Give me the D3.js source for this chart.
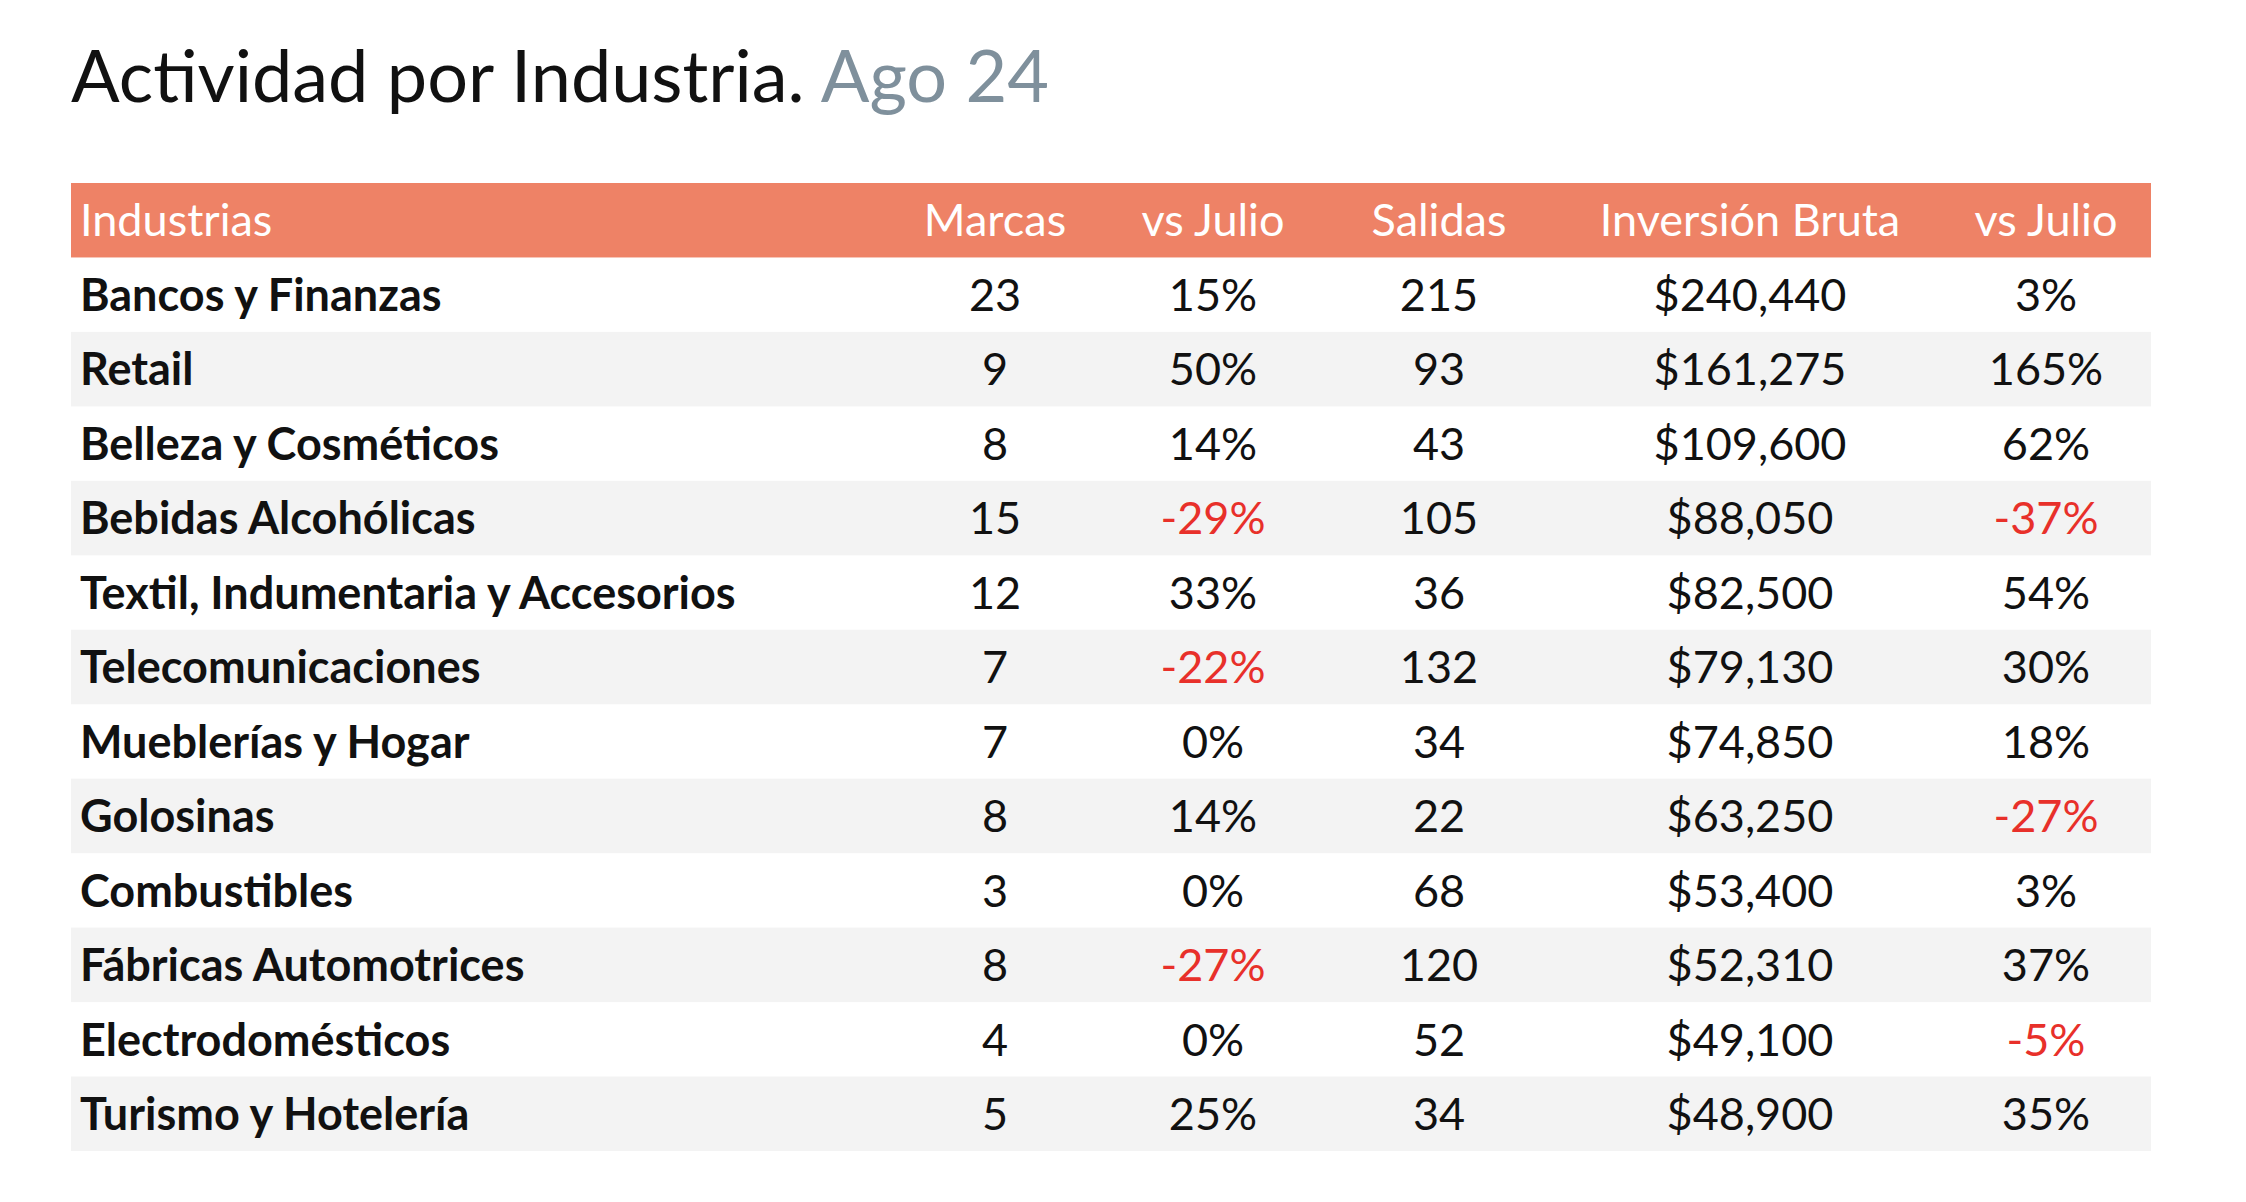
<!DOCTYPE html><html><head><meta charset="utf-8"><script src="https://cdn.jsdelivr.net/npm/d3@7"></script>
<style>body{margin:0;background:#fff}svg{font-family:Lato,sans-serif}</style></head><body>
<svg id="c" width="2246" height="1202"></svg>
<script>
const industrias=["Bancos y Finanzas","Retail","Belleza y Cosméticos","Bebidas Alcohólicas","Textil, Indumentaria y Accesorios","Telecomunicaciones","Mueblerías y Hogar","Golosinas","Combustibles","Fábricas Automotrices","Electrodomésticos","Turismo y Hotelería"];
const marcas=[23,9,8,15,12,7,7,8,3,8,4,5];
const vsJulioMarcas=[15,50,14,-29,33,-22,0,14,0,-27,0,25];
const salidas=[215,93,43,105,36,132,34,22,68,120,52,34];
const inversion=[240440,161275,109600,88050,82500,79130,74850,63250,53400,52310,49100,48900];
const vsJulioInv=[3,165,62,-37,54,30,18,-27,3,37,-5,35];
const headers=["Industrias","Marcas","vs Julio","Salidas","Inversión Bruta","vs Julio"];
const svg=d3.select("#c");
const x0=71,x1=2151;
const y=d3.scaleBand().domain(d3.range(13)).range([183,1151]);
const colX=[80,995,1213,1439,1750,2046];
const red="#e8302a";
svg.append("text").attr("x",71).attr("y",102).attr("font-size",72).attr("fill","#111")
 .text("Actividad por Industria. ").append("tspan").attr("fill","#7f909c").text("Ago 24");
svg.append("rect").attr("x",x0).attr("width",x1-x0).attr("y",y(0)).attr("height",y.bandwidth()).attr("fill","#ee8266");
headers.forEach((h,i)=>svg.append("text").attr("x",colX[i]).attr("y",y(0)+y.bandwidth()/2).attr("dy","0.36em")
 .attr("text-anchor",i?"middle":"start").attr("fill","#fff").attr("font-size",45).text(h));
const fmt=d3.format(",");
industrias.forEach((ind,r)=>{
 const yy=y(r+1);
 if(r%2==1) svg.append("rect").attr("x",x0).attr("width",x1-x0).attr("y",yy).attr("height",y.bandwidth()).attr("fill","#f3f3f3");
 const cells=[ind,marcas[r],vsJulioMarcas[r]+"%",salidas[r],"$"+fmt(inversion[r]),vsJulioInv[r]+"%"];
 const neg=[false,false,vsJulioMarcas[r]<0,false,false,vsJulioInv[r]<0];
 cells.forEach((c,i)=>svg.append("text").attr("x",colX[i]).attr("y",yy+y.bandwidth()/2).attr("dy","0.36em")
  .attr("text-anchor",i?"middle":"start").attr("font-weight",i?400:700).attr("fill",neg[i]?red:"#111")
  .attr("font-size",45).text(c));
});
</script></body></html>
